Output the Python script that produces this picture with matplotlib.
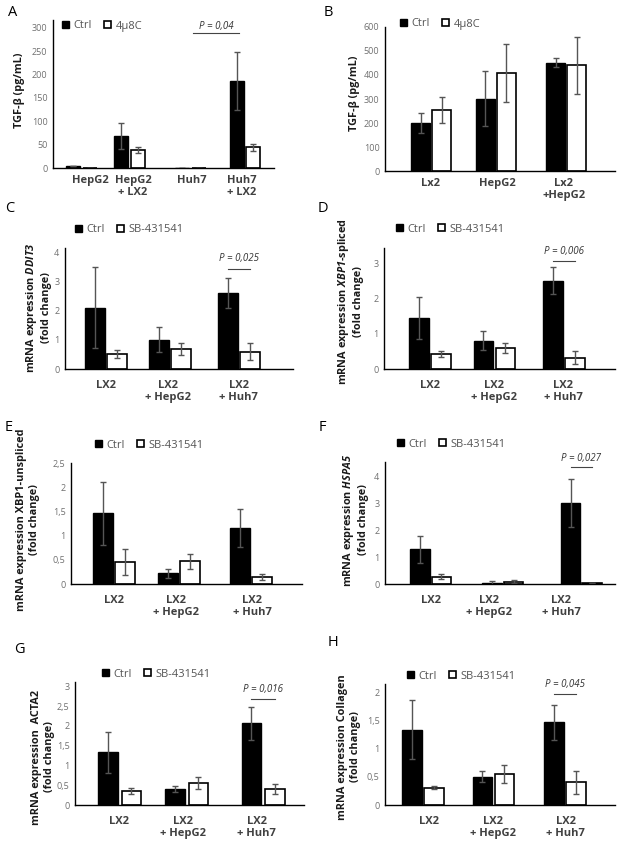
import matplotlib.pyplot as plt
import matplotlib
from matplotlib.patches import Patch
from matplotlib.ticker import FuncFormatter, MultipleLocator

matplotlib.rcParams['font.family'] = ['Open Sans', 'DejaVu Sans']
matplotlib.rcParams['mathtext.fontset'] = 'custom'
matplotlib.rcParams['mathtext.rm'] = 'Open Sans:italic:bold'
matplotlib.rcParams['mathtext.it'] = 'Open Sans:italic:bold'
matplotlib.rcParams['mathtext.bf'] = 'Open Sans:italic:bold'

# --- data ---
tgf_a_groups = ['HepG2', 'HepG2\n+ LX2', 'Huh7', 'Huh7\n+ LX2']
tgf_a_ctrl = [5, 68, 1, 186]
tgf_a_ctrl_err = [0, 28, 0, 62]
tgf_a_4u8c = [1, 38, 1, 44]
tgf_a_4u8c_err = [0, 6, 0, 8]

tgf_b_groups = ['Lx2', 'HepG2', 'Lx2\n+HepG2']
tgf_b_ctrl = [200, 302, 452]
tgf_b_ctrl_err = [42, 115, 20]
tgf_b_4u8c = [254, 408, 440]
tgf_b_4u8c_err = [54, 120, 118]

lx2_groups = ['LX2', 'LX2\n+ HepG2', 'LX2\n+ Huh7']

ddit3_ctrl = [2.11, 1.00, 2.62]
ddit3_ctrl_err = [1.38, 0.43, 0.52]
ddit3_sb = [0.52, 0.68, 0.60]
ddit3_sb_err = [0.15, 0.21, 0.30]

xbp1s_ctrl = [1.44, 0.81, 2.51]
xbp1s_ctrl_err = [0.60, 0.28, 0.39]
xbp1s_sb = [0.42, 0.59, 0.32]
xbp1s_sb_err = [0.08, 0.14, 0.18]

xbp1u_ctrl = [1.46, 0.22, 1.16]
xbp1u_ctrl_err = [0.65, 0.09, 0.39]
xbp1u_sb = [0.46, 0.47, 0.15]
xbp1u_sb_err = [0.27, 0.16, 0.06]

hspa5_ctrl = [1.29, 0.04, 3.04]
hspa5_ctrl_err = [0.50, 0.07, 0.90]
hspa5_sb = [0.27, 0.09, 0.04]
hspa5_sb_err = [0.10, 0.05, 0.0]

acta2_ctrl = [1.33, 0.41, 2.07]
acta2_ctrl_err = [0.52, 0.07, 0.42]
acta2_sb = [0.36, 0.55, 0.40]
acta2_sb_err = [0.08, 0.15, 0.12]

coll_ctrl = [1.34, 0.50, 1.47]
coll_ctrl_err = [0.52, 0.10, 0.31]
coll_sb = [0.31, 0.55, 0.40]
coll_sb_err = [0.03, 0.16, 0.20]

W, H = 617, 847
fig = plt.figure(figsize=(W / 100, H / 100), dpi=100)


def comma_fmt(v, pos):
    return ('%g' % v).replace('.', ',')


def panel(letter, letter_xy, box, ymax, ystep, pos, ticks, bar_px, gap_px,
          groups, ctrl, ctrl_err, trt, trt_err, trt_name, legend_xy,
          ylabel, ylabel_xy, pval=None, comma=False, xpad=8):
    x0, x1, ytop, ybot, c0, s = box
    ax = fig.add_axes([x0 / W, 1 - ybot / H, (x1 - x0) / W, (ybot - ytop) / H])
    width = bar_px / s
    off = (bar_px + gap_px) / 2 / s
    pos_c = [p - off for p in pos]
    pos_t = [p + off for p in pos]
    ekw = dict(ecolor='#555555', elinewidth=1.0, capsize=2, capthick=1.0)
    ax.bar(pos_c, ctrl, width, color='black', edgecolor='black', linewidth=1.0,
           yerr=ctrl_err, error_kw=ekw, zorder=2)
    ax.bar(pos_t, trt, width, color='white', edgecolor='black', linewidth=1.2,
           yerr=trt_err, error_kw=ekw, zorder=2)
    ax.set_xlim((x0 - c0) / s, (x1 - c0) / s)
    ax.set_ylim(0, ymax)
    ax.yaxis.set_major_locator(MultipleLocator(ystep))
    if comma:
        ax.yaxis.set_major_formatter(FuncFormatter(comma_fmt))
    ax.set_xticks(ticks)
    ax.set_xticklabels(groups, fontweight='bold', fontsize=8, color='#404040',
                       linespacing=1.15)
    ax.tick_params(axis='x', length=0, pad=xpad)
    ax.tick_params(axis='y', length=0, pad=4, labelsize=6.5, labelcolor='#707070')
    for side in ['top', 'right']:
        ax.spines[side].set_visible(False)
    for side in ['left', 'bottom']:
        ax.spines[side].set_linewidth(1.0)
        ax.spines[side].set_color('black')
    ax.patch.set_alpha(0)

    handles = [Patch(facecolor='black', edgecolor='black', linewidth=1.0),
               Patch(facecolor='white', edgecolor='black', linewidth=1.2)]
    ax.legend(handles, ['Ctrl', trt_name], loc='center left',
              bbox_to_anchor=(legend_xy[0] / W, 1 - legend_xy[1] / H),
              bbox_transform=fig.transFigure, ncol=2, frameon=False,
              fontsize=8, handlelength=0.6, handleheight=0.6,
              handletextpad=0.45, columnspacing=1.1, borderpad=0,
              borderaxespad=0, labelcolor='#555555')

    if pval is not None:
        xa, xb, yl, yt, txt = pval
        if xa is None:
            xa, xb = pos_c[-1], pos_t[-1]
        ax.plot([xa, xb], [yl, yl], color='#444444', lw=0.8, clip_on=False)
        ax.text((xa + xb) / 2, yt, txt, style='italic', fontsize=7,
                color='#333333', ha='center', va='center')

    fig.text(ylabel_xy[0] / W, 1 - ylabel_xy[1] / H, ylabel, rotation=90,
             ha='center', va='center', fontweight='bold', fontsize=7.8,
             multialignment='center', linespacing=1.15, color='#1a1a1a')
    fig.text(letter_xy[0] / W, 1 - letter_xy[1] / H, letter, fontsize=10.5,
             ha='left', va='center', color='black')
    return ax


# A
panel('A', (8, 12), (53, 274, 20, 168, 81.5, 50), 317, 50,
      [0, 0.96, 2.18, 3.27], [0.17, 1.03, 2.21, 3.21], 14, 2.5,
      tgf_a_groups, tgf_a_ctrl, tgf_a_ctrl_err, tgf_a_4u8c, tgf_a_4u8c_err,
      '4μ8C', (62, 26), 'TGF-β (pg/mL)', (20, 90),
      pval=(2.23, 3.15, 289, 304, 'P = 0,04'), xpad=5)

# B
panel('B', (324, 12), (385, 615, 27, 171, 431, 67.5), 600, 100,
      [0, 0.96, 2.0], [0, 0.99, 1.97], 19, 2,
      tgf_b_groups, tgf_b_ctrl, tgf_b_ctrl_err, tgf_b_4u8c, tgf_b_4u8c_err,
      '4μ8C', (400, 24), 'TGF-β (pg/mL)', (355, 93), xpad=5)

# C
panel('C', (5, 209), (65, 293, 248, 369, 106, 67), 4.16, 1,
      [0, 0.95, 1.99], [0, 0.93, 1.98], 20, 2,
      lx2_groups, ddit3_ctrl, ddit3_ctrl_err, ddit3_sb, ddit3_sb_err,
      'SB-431541', (75, 230), 'mRNA expression $DDIT3$\n(fold change)', (38, 308),
      pval=(None, None, 3.43, 3.79, 'P = 0,025'))

# D
panel('D', (318, 209), (384, 615, 248, 369, 430, 67), 3.44, 1,
      [0, 0.96, 2.0], [0, 0.95, 1.99], 19.5, 2.5,
      lx2_groups, xbp1s_ctrl, xbp1s_ctrl_err, xbp1s_sb, xbp1s_sb_err,
      'SB-431541', (396, 229), 'mRNA expression $XBP1$-spliced\n(fold change)', (350, 302),
      pval=(None, None, 3.07, 3.35, 'P = 0,006'))

# E
panel('E', (5, 427), (71, 302, 463, 584, 114, 68.5), 2.5, 0.5,
      [0, 0.95, 2.0], [0, 0.9, 2.02], 19.5, 2.5,
      lx2_groups, xbp1u_ctrl, xbp1u_ctrl_err, xbp1u_sb, xbp1u_sb_err,
      'SB-431541', (95, 445), 'mRNA expression XBP1-unspliced\n(fold change)', (28, 520),
      comma=True)

# F
panel('F', (319, 427), (385, 615, 462, 584, 430.5, 67), 4.56, 1,
      [0, 1.08, 2.25], [0, 0.88, 1.95], 19.5, 2,
      lx2_groups, hspa5_ctrl, hspa5_ctrl_err, hspa5_sb, hspa5_sb_err,
      'SB-431541', (397, 444), 'mRNA expression $HSPA5$\n(fold change)', (355, 520),
      pval=(None, None, 4.36, 4.70, 'P = 0,027'))

# G
panel('G', (14, 649), (75, 304, 682, 805, 119.5, 70), 3.11, 0.5,
      [0, 0.96, 2.05], [0, 0.9, 1.96], 19.5, 4,
      lx2_groups, acta2_ctrl, acta2_ctrl_err, acta2_sb, acta2_sb_err,
      'SB-431541', (102, 674), 'mRNA expression  ACTA2\n(fold change)', (43, 757),
      pval=(None, None, 2.68, 2.93, 'P = 0,016'), comma=True)

# H
panel('H', (328, 642), (385, 615, 684, 805, 423, 71), 2.15, 0.5,
      [0, 0.99, 2.0], [0.08, 0.99, 2.01], 19.5, 2.5,
      lx2_groups, coll_ctrl, coll_ctrl_err, coll_sb, coll_sb_err,
      'SB-431541', (407, 676), 'mRNA expression Collagen\n(fold change)', (349, 747),
      pval=(None, None, 1.98, 2.14, 'P = 0,045'), comma=True)

plt.savefig('out.png', dpi=100)
